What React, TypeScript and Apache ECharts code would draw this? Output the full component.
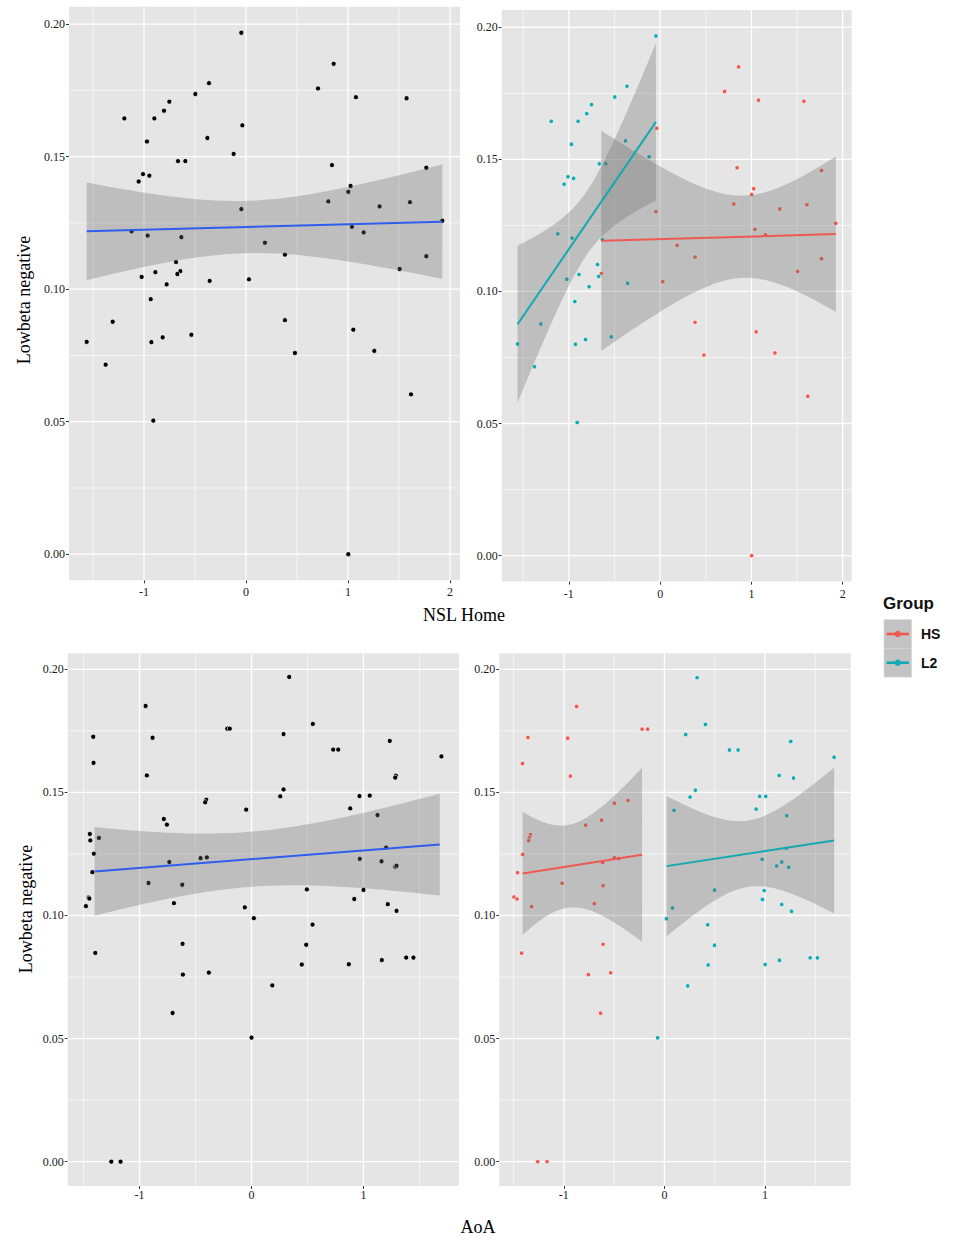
import React, { useEffect, useRef } from "react";
import * as echarts from "echarts";

// ---------- Data ----------
// Top row: NSL Home vs Lowbeta negative
const NSL_X = [
  -0.046, 0.86, 0.706, 1.078, 1.575, -0.363, -0.497, -0.752, -0.804, -1.193,
  -0.899, -0.036, -0.971, -0.379, -0.121, -0.667, -0.595, 0.843, 1.768, -1.01,
  -0.948, -1.052, 1.026, 1.003, 0.807, 1.608, 1.31, -0.046, 1.925, 1.039,
  -1.121, 1.154, -0.964, -0.634, 0.186, 0.382, 1.768, -0.686, -0.644, -0.673,
  1.507, -0.889, -1.023, 0.029, -0.356, -0.778, -0.934, -1.307, 0.382, 1.052,
  -1.562, -0.928, -0.817, -0.536, 0.48, 1.258, -1.376, 1.618, -0.909, 1.003,
];
const NSL_Y = [
  0.1967, 0.185, 0.1757, 0.1724, 0.172, 0.1777, 0.1736, 0.1707, 0.1673, 0.1644,
  0.1644, 0.1618, 0.1557, 0.157, 0.151, 0.1483, 0.1483, 0.1468, 0.1458, 0.1434,
  0.1428, 0.1406, 0.1389, 0.1367, 0.1331, 0.1328, 0.1312, 0.1302, 0.1258, 0.1235,
  0.1218, 0.1214, 0.1202, 0.1196, 0.1175, 0.113, 0.1124, 0.1102, 0.1068, 0.1057,
  0.1076, 0.1064, 0.1046, 0.1037, 0.1031, 0.1018, 0.0962, 0.0877, 0.0883, 0.0847,
  0.0801, 0.08, 0.0818, 0.0828, 0.0759, 0.0767, 0.0715, 0.0603, 0.0504, 0.0,
];
const NSL_GROUP = [
  "L2", "HS", "HS", "HS", "HS", "L2", "L2", "L2", "L2", "L2",
  "L2", "HS", "L2", "L2", "L2", "L2", "L2", "HS", "HS", "L2",
  "L2", "L2", "HS", "HS", "HS", "HS", "HS", "HS", "HS", "HS",
  "L2", "HS", "L2", "L2", "HS", "HS", "HS", "L2", "HS", "L2",
  "HS", "L2", "L2", "HS", "L2", "L2", "L2", "L2", "HS", "HS",
  "L2", "L2", "L2", "L2", "HS", "HS", "L2", "HS", "L2", "HS",
];

// Bottom-left: AoA vs Lowbeta negative (all participants, points jittered)
const AOA_X = [
  0.336, -0.946, 0.548, -0.217, -0.194, 0.286, -1.414, -0.884, 1.235, 0.729,
  0.774, 1.696, -1.411, -0.935, 1.289, 1.283, 0.286, 0.256, 0.964, 1.056,
  -0.405, -0.414, 0.881, -0.048, 1.125, -0.783, -0.756, -1.444, -1.363, -1.44,
  1.202, -1.408, -0.455, -0.399, 0.967, -0.735, 1.161, 1.283, 1.295, -1.422,
  -0.92, -0.619, 0.494, 1.0, -1.455, -1.449, 0.917, -0.693, 1.217, -1.479,
  -0.06, 1.295, 0.021, 0.545, -0.616, 0.488, -1.396, -0.613, -0.381, 0.449,
  0.869, 1.164, 1.381, 1.446, 0.185, -0.705, 0.0, -1.253, -1.17,
];
const AOA_Y = [
  0.1969, 0.1851, 0.1778, 0.1759, 0.1759, 0.1737, 0.1726, 0.1722, 0.1709, 0.1674,
  0.1674, 0.1646, 0.162, 0.1569, 0.1568, 0.156, 0.1512, 0.1484, 0.1485, 0.1487,
  0.147, 0.146, 0.1435, 0.143, 0.1408, 0.1392, 0.1369, 0.1331, 0.1315, 0.1305,
  0.1276, 0.1251, 0.1233, 0.1236, 0.123, 0.1217, 0.122, 0.1198, 0.1202, 0.1176,
  0.1132, 0.1125, 0.1106, 0.1104, 0.1073, 0.1069, 0.1067, 0.105, 0.1046, 0.1038,
  0.1033, 0.1019, 0.0989, 0.0963, 0.0885, 0.0881, 0.0848, 0.076, 0.0768, 0.0801,
  0.0802, 0.0819, 0.0829, 0.0829, 0.0716, 0.0604, 0.0504, 0.0, 0.0,
];

// Bottom-right: AoA by group (points jittered)
const AOA_HS_X = [
  -1.357, -1.411, -0.873, -0.962, -0.935, -0.222, -0.166, -0.361, -0.498, -0.783,
  -0.624, -1.333, -1.343, -1.35, -1.41, -0.498, -0.455, -0.614, -1.46, -1.018,
  -0.61, -1.496, -1.466, -0.697, -1.32, -0.61, -1.42, -0.756, -0.534, -0.634,
  -1.26, -1.167,
];
const AOA_HS_Y = [
  0.1723, 0.1617, 0.1849, 0.172, 0.1566, 0.1757, 0.1757, 0.1467, 0.1456, 0.1367,
  0.1387, 0.1328, 0.1316, 0.1304, 0.1248, 0.1235, 0.1231, 0.1215, 0.1174, 0.1131,
  0.1121, 0.1075, 0.1067, 0.1048, 0.1036, 0.0883, 0.0847, 0.076, 0.0767, 0.0603,
  0.0, 0.0,
];
const AOA_L2_X = [
  0.325, 0.408, 0.212, 0.647, 0.733, 1.257, 1.688, 1.141, 1.284, 0.308,
  0.255, 0.948, 1.008, 0.912, 0.096, 1.217, 1.211, 0.972, 1.167, 1.117,
  1.237, 0.498, 0.992, 0.975, 1.167, 0.08, 1.264, 0.02, 0.431, 0.498,
  0.435, 1.002, 1.144, 1.45, 1.522, 0.232, -0.067,
];
const AOA_L2_Y = [
  0.1966, 0.1776, 0.1735, 0.1672, 0.1672, 0.1707, 0.1643, 0.1569, 0.1558, 0.1509,
  0.1481, 0.1484, 0.1484, 0.1432, 0.1427, 0.1405, 0.1273, 0.1228, 0.1217, 0.1201,
  0.1196, 0.1103, 0.1101, 0.1065, 0.1045, 0.103, 0.1017, 0.0987, 0.0962, 0.0879,
  0.0799, 0.0801, 0.0818, 0.0828, 0.0828, 0.0714, 0.0503,
];

// Fitted lm bands of the jittered bottom panels
// at the left end, the narrowest point and the right end.
const AOA_FIT_X = [-1.402, 0.02, 1.681];
const AOA_FIT_LO = [0.0999, 0.1122, 0.1081];
const AOA_FIT_HI = [0.1359, 0.1346, 0.1495];
const AOA_HS_FIT_X = [-1.41, -0.995, -0.222];
const AOA_HS_FIT_LO = [0.0921, 0.1032, 0.0893];
const AOA_HS_FIT_HI = [0.1421, 0.1369, 0.16];
const AOA_L2_FIT_X = [0.023, 0.912, 1.688];
const AOA_L2_FIT_LO = [0.0916, 0.1112, 0.1008];
const AOA_L2_FIT_HI = [0.1485, 0.1386, 0.1601];

// Ticks and grid breaks
const X_TICKS_TOP = [-1, 0, 1, 2];
const X_TICKS_BOTTOM = [-1, 0, 1];
const X_MINOR = [-1.5, -0.5, 0.5, 1.5];
const Y_TICKS = [0, 0.05, 0.1, 0.15, 0.2];
const Y_MINOR = [0.025, 0.075, 0.125, 0.175];
const GROUPS = ["HS", "L2"];

// ---------- Styles ----------
const COLORS: Record<string, string> = { HS: "#EE5A52", L2: "#14A9B0" };
const BLUE = "#2F5EEE";
const PANEL_BG = "#E5E5E5";
const BAND_FILL = "rgba(109,109,109,0.32)";
const SERIF = "'Liberation Serif', 'Times New Roman', serif";
const SANS = "'Liberation Sans', Arial, sans-serif";

const Y_MIN = -0.00984;
const Y_MAX = 0.2065;
const X_RANGE_TOP = [-1.7356, 2.0986];
const X_RANGE_BOTTOM = [-1.642, 1.853];
const STEPS = 80;

// lm fit with 95% confidence band, from the (unjittered) top-row data
function lmFit(xs: number[], ys: number[]) {
  const n = xs.length;
  const mx = xs.reduce((a, b) => a + b, 0) / n;
  const my = ys.reduce((a, b) => a + b, 0) / n;
  let sxx = 0;
  let sxy = 0;
  for (let i = 0; i < n; i++) {
    sxx += (xs[i] - mx) * (xs[i] - mx);
    sxy += (xs[i] - mx) * (ys[i] - my);
  }
  const b = sxy / sxx;
  const a = my - b * mx;
  let sse = 0;
  for (let i = 0; i < n; i++) {
    const r = ys[i] - (a + b * xs[i]);
    sse += r * r;
  }
  const df = n - 2;
  const s = Math.sqrt(sse / df);
  const t = 1.96 + 2.4 / df; // approx. t(0.975, df)
  const x0 = Math.min(...xs);
  const x1 = Math.max(...xs);
  const band: number[][] = [];
  for (let i = 0; i <= STEPS; i++) {
    const x = x0 + ((x1 - x0) * i) / STEPS;
    const yh = a + b * x;
    const se = s * Math.sqrt(1 / n + ((x - mx) * (x - mx)) / sxx);
    band.push([x, yh - t * se, yh + t * se]);
  }
  return { line: [[x0, a + b * x0], [x1, a + b * x1]], band };
}

// Rebuild an lm-shaped band (straight fit, hyperbolic width) through read values
function readFit(fx: number[], lo: number[], hi: number[]) {
  const c = fx.map((_, i) => (lo[i] + hi[i]) / 2);
  const h2 = fx.map((_, i) => ((hi[i] - lo[i]) / 2) ** 2);
  const [xa, xb, xc] = fx;
  const slope = (c[2] - c[0]) / (xc - xa);
  const fit = (x: number) => c[0] + slope * (x - xa);
  // quadratic through the three squared half-widths
  const q = (x: number) =>
    (h2[0] * (x - xb) * (x - xc)) / ((xa - xb) * (xa - xc)) +
    (h2[1] * (x - xa) * (x - xc)) / ((xb - xa) * (xb - xc)) +
    (h2[2] * (x - xa) * (x - xb)) / ((xc - xa) * (xc - xb));
  const band: number[][] = [];
  for (let i = 0; i <= STEPS; i++) {
    const x = xa + ((xc - xa) * i) / STEPS;
    const hw = Math.sqrt(Math.max(q(x), 0));
    band.push([x, fit(x) - hw, fit(x) + hw]);
  }
  return { line: [[xa, fit(xa)], [xc, fit(xc)]], band };
}

function pick(xs: number[], ys: number[], groups: string[] | null, g: string | null) {
  const out: number[][] = [];
  for (let i = 0; i < xs.length; i++) {
    if (!groups || groups[i] === g) out.push([xs[i], ys[i]]);
  }
  return out;
}

function gridSeries(idx: number, xr: number[], xt: number[]) {
  return {
    type: "custom",
    xAxisIndex: idx,
    yAxisIndex: idx,
    z: 1,
    silent: true,
    data: [[0, 0.1]],
    renderItem: (_p: any, api: any) => {
      const children: any[] = [];
      const seg = (a: number[], b: number[], w: number) => {
        const p0 = api.coord(a);
        const p1 = api.coord(b);
        children.push({
          type: "line",
          shape: { x1: p0[0], y1: p0[1], x2: p1[0], y2: p1[1] },
          style: { stroke: "#FFFFFF", lineWidth: w },
        });
      };
      X_MINOR.forEach((v) => seg([v, Y_MIN], [v, Y_MAX], 0.6));
      Y_MINOR.forEach((v) => seg([xr[0], v], [xr[1], v], 0.6));
      xt.forEach((v) => seg([v, Y_MIN], [v, Y_MAX], 1.3));
      Y_TICKS.forEach((v) => seg([xr[0], v], [xr[1], v], 1.3));
      return { type: "group", children };
    },
  };
}

function bandSeries(idx: number, band: number[][]) {
  return {
    type: "custom",
    xAxisIndex: idx,
    yAxisIndex: idx,
    z: 3,
    silent: true,
    data: [[0, 0.1]],
    renderItem: (_p: any, api: any) => {
      const upper = band.map((p) => api.coord([p[0], p[2]]));
      const lower = band.map((p) => api.coord([p[0], p[1]])).reverse();
      return {
        type: "polygon",
        shape: { points: upper.concat(lower) },
        style: { fill: BAND_FILL },
      };
    },
  };
}

function lineSeries(idx: number, line: number[][], color: string) {
  return {
    type: "line",
    xAxisIndex: idx,
    yAxisIndex: idx,
    z: 4,
    silent: true,
    data: line,
    showSymbol: false,
    symbol: "none",
    lineStyle: { color, width: 2 },
  };
}

function scatterSeries(idx: number, data: number[][], color: string, size: number) {
  return {
    type: "scatter",
    xAxisIndex: idx,
    yAxisIndex: idx,
    z: 2,
    silent: true,
    data,
    symbolSize: size,
    itemStyle: { color, borderColor: "#FFFFFF", borderWidth: 0.7, opacity: 1 },
  };
}

function xAxis(idx: number, xr: number[], ticks: number[], margin: number) {
  return {
    type: "value",
    gridIndex: idx,
    min: xr[0],
    max: xr[1],
    axisLine: { show: false, onZero: false },
    splitLine: { show: false },
    axisTick: { show: true, customValues: ticks, length: 3, lineStyle: { color: "#333", width: 1 } },
    axisLabel: {
      customValues: ticks,
      formatter: (v: number) => String(v),
      fontFamily: SERIF,
      fontSize: 12,
      color: "#1A1A1A",
      margin,
    },
  };
}

function yAxis(idx: number) {
  return {
    type: "value",
    gridIndex: idx,
    min: Y_MIN,
    max: Y_MAX,
    axisLine: { show: false, onZero: false },
    splitLine: { show: false },
    axisTick: { show: true, customValues: Y_TICKS, length: 3, lineStyle: { color: "#333", width: 1 } },
    axisLabel: {
      customValues: Y_TICKS,
      formatter: (v: number) => v.toFixed(2),
      fontFamily: SERIF,
      fontSize: 12,
      color: "#1A1A1A",
      margin: 4,
    },
  };
}

function buildOption() {
  const fit1 = lmFit(NSL_X, NSL_Y);
  const hsTop = pick(NSL_X, NSL_Y, NSL_GROUP, "HS");
  const l2Top = pick(NSL_X, NSL_Y, NSL_GROUP, "L2");
  const fit2hs = lmFit(hsTop.map((p) => p[0]), hsTop.map((p) => p[1]));
  const fit2l2 = lmFit(l2Top.map((p) => p[0]), l2Top.map((p) => p[1]));
  const fit3 = readFit(AOA_FIT_X, AOA_FIT_LO, AOA_FIT_HI);
  const fit4hs = readFit(AOA_HS_FIT_X, AOA_HS_FIT_LO, AOA_HS_FIT_HI);
  const fit4l2 = readFit(AOA_L2_FIT_X, AOA_L2_FIT_LO, AOA_L2_FIT_HI);

  const grids = [
    { left: 69, top: 6.8, width: 391, height: 573.5 },
    { left: 501.7, top: 10.1, width: 350, height: 571.5 },
    { left: 67.7, top: 653.3, width: 391.3, height: 532.6 },
    { left: 499.3, top: 653.3, width: 351.4, height: 532.6 },
  ].map((g) => ({ ...g, show: true, backgroundColor: PANEL_BG, borderWidth: 0, containLabel: false }));

  const series: any[] = [
    gridSeries(0, X_RANGE_TOP, X_TICKS_TOP),
    gridSeries(1, X_RANGE_TOP, X_TICKS_TOP),
    gridSeries(2, X_RANGE_BOTTOM, X_TICKS_BOTTOM),
    gridSeries(3, X_RANGE_BOTTOM, X_TICKS_BOTTOM),
    // panel 1
    scatterSeries(0, pick(NSL_X, NSL_Y, null, null), "#000000", 5),
    bandSeries(0, fit1.band),
    lineSeries(0, fit1.line, BLUE),
    // panel 2
    scatterSeries(1, hsTop, COLORS.HS, 4.5),
    scatterSeries(1, l2Top, COLORS.L2, 4.5),
    bandSeries(1, fit2hs.band),
    bandSeries(1, fit2l2.band),
    lineSeries(1, fit2hs.line, COLORS.HS),
    lineSeries(1, fit2l2.line, COLORS.L2),
    // panel 3
    scatterSeries(2, pick(AOA_X, AOA_Y, null, null), "#000000", 5),
    bandSeries(2, fit3.band),
    lineSeries(2, fit3.line, BLUE),
    // panel 4
    scatterSeries(3, pick(AOA_HS_X, AOA_HS_Y, null, null), COLORS.HS, 4.5),
    scatterSeries(3, pick(AOA_L2_X, AOA_L2_Y, null, null), COLORS.L2, 4.5),
    bandSeries(3, fit4hs.band),
    bandSeries(3, fit4l2.band),
    lineSeries(3, fit4hs.line, COLORS.HS),
    lineSeries(3, fit4l2.line, COLORS.L2),
  ];

  const titleStyle = { fontFamily: SERIF, fontSize: 18, fill: "#000", align: "center", verticalAlign: "middle" };
  const legendY = [634, 662.7];
  const graphic: any[] = [
    { type: "text", x: 464, y: 615, style: { ...titleStyle, text: "NSL Home" } },
    { type: "text", x: 478, y: 1227, style: { ...titleStyle, text: "AoA" } },
    { type: "text", x: 24, y: 300, rotation: Math.PI / 2, style: { ...titleStyle, text: "Lowbeta negative" } },
    { type: "text", x: 26, y: 909, rotation: Math.PI / 2, style: { ...titleStyle, text: "Lowbeta negative" } },
    {
      type: "text",
      x: 883,
      y: 603,
      style: { text: "Group", fontFamily: SANS, fontSize: 17, fontWeight: "bold", fill: "#111", align: "left", verticalAlign: "middle" },
    },
  ];
  GROUPS.forEach((g, i) => {
    const cy = legendY[i];
    graphic.push(
      { type: "rect", shape: { x: 884, y: cy - 14.4, width: 27.6, height: 28.8 }, style: { fill: "#C3C3C3", stroke: "#D6D6D6", lineWidth: 0.6 } },
      { type: "line", shape: { x1: 886.5, y1: cy, x2: 909, y2: cy }, style: { stroke: COLORS[g], lineWidth: 2.6 } },
      { type: "circle", shape: { cx: 897.8, cy, r: 3.2 }, style: { fill: COLORS[g] } },
      {
        type: "text",
        x: 921,
        y: cy,
        style: { text: g, fontFamily: SANS, fontSize: 14, fontWeight: "bold", fill: "#111", align: "left", verticalAlign: "middle" },
      }
    );
  });

  return {
    animation: false,
    backgroundColor: "#FFFFFF",
    grid: grids,
    xAxis: [
      xAxis(0, X_RANGE_TOP, X_TICKS_TOP, 6),
      xAxis(1, X_RANGE_TOP, X_TICKS_TOP, 6),
      xAxis(2, X_RANGE_BOTTOM, X_TICKS_BOTTOM, 3),
      xAxis(3, X_RANGE_BOTTOM, X_TICKS_BOTTOM, 3),
    ],
    yAxis: [yAxis(0), yAxis(1), yAxis(2), yAxis(3)],
    series,
    graphic,
  };
}

export default function App() {
  const ref = useRef<HTMLDivElement>(null);
  useEffect(() => {
    if (!ref.current) return;
    const chart = echarts.init(ref.current, null, { renderer: "svg" });
    chart.setOption(buildOption() as any);
    return () => chart.dispose();
  }, []);
  return (
    <div
      ref={ref}
      style={{ position: "absolute", left: 0, top: 0, width: 957, height: 1248, background: "#fff" }}
    />
  );
}
